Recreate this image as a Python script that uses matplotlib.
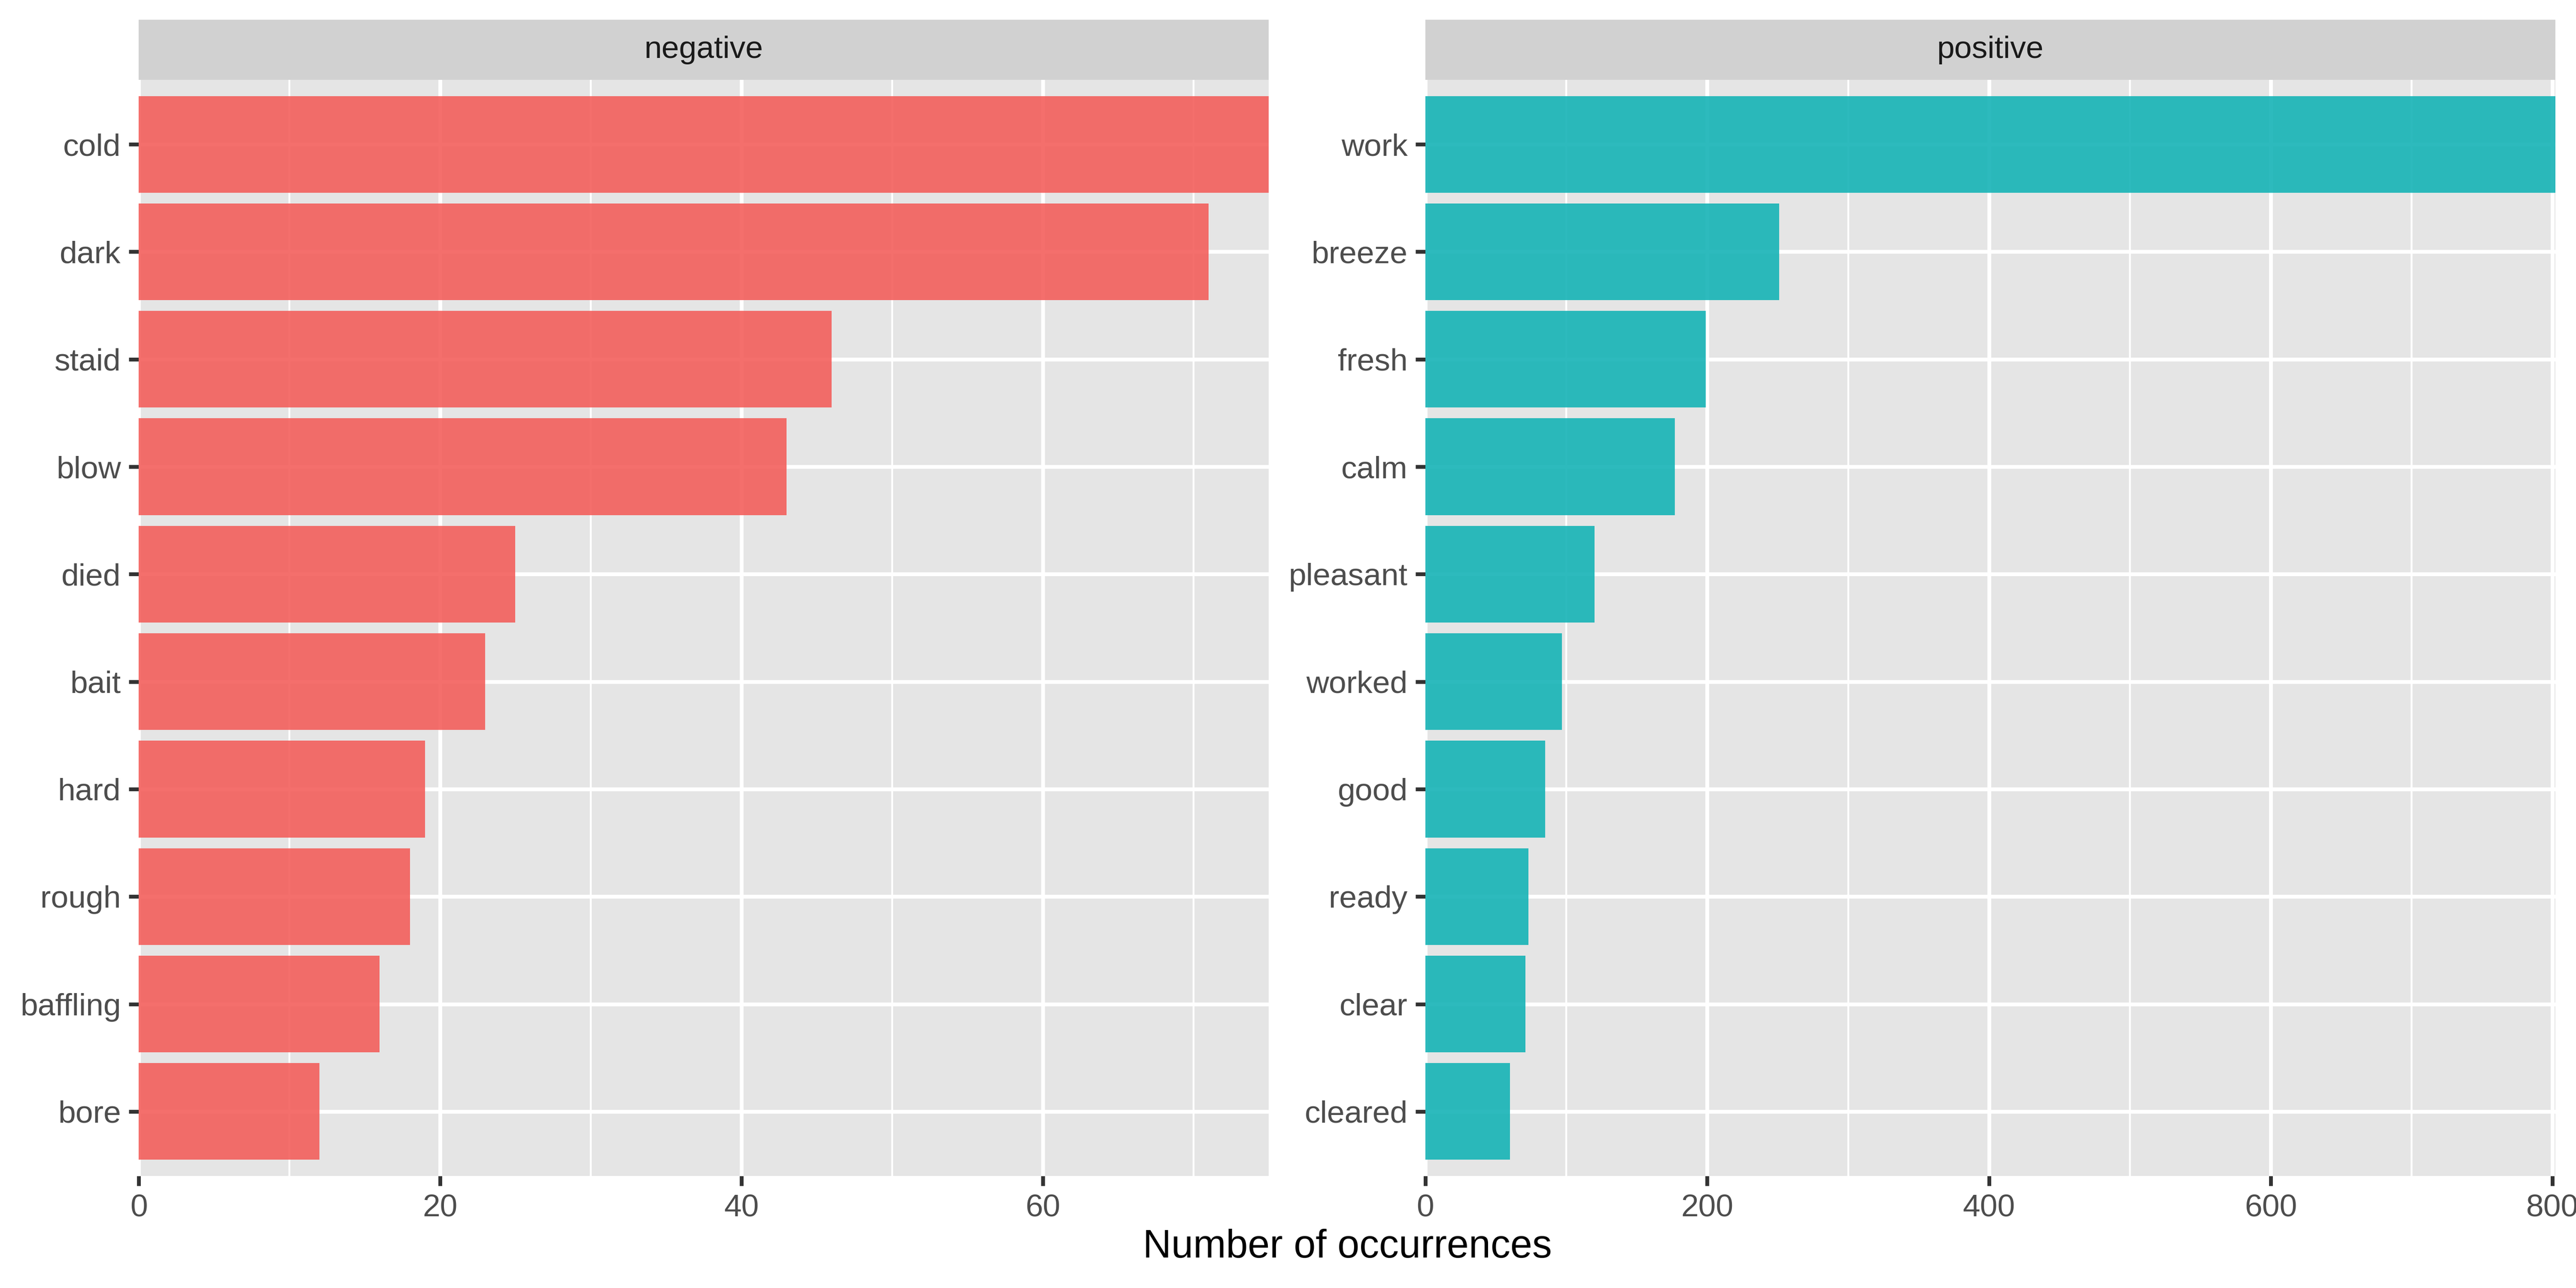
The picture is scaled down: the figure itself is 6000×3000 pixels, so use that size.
import numpy as np
import matplotlib
matplotlib.use("Agg")
import matplotlib.pyplot as plt
from matplotlib.ticker import MultipleLocator

plt.rcParams['font.family'] = ['Liberation Sans', 'DejaVu Sans']

# word counts per sentiment, top 10 each
neg_words = ["cold", "dark", "staid", "blow", "died", "bait", "hard", "rough", "baffling", "bore"]
neg_counts = [75, 71, 46, 43, 25, 23, 19, 18, 16, 12]

pos_words = ["work", "breeze", "fresh", "calm", "pleasant", "worked", "good", "ready", "clear", "cleared"]
pos_counts = [802, 251, 199, 177, 120, 97, 85, 73, 71, 60]

panels = [
    ("negative", neg_words, neg_counts, "#F35F5C", 20, 10),
    ("positive", pos_words, pos_counts, "#16B3B6", 200, 100),
]

fig = plt.figure(figsize=(10, 5), dpi=600)
fig.patch.set_facecolor("white")

lw_major = 1.067
lw_minor = 0.53
lefts = [323 / 6000, 3320 / 6000]
width = 2632 / 6000
bottom = (3000 - 2739) / 3000
height = (2739 - 186) / 3000
strip_h = 140 / 3000

for (title, words, counts, color, major, minor), left in zip(panels, lefts):
    ax = fig.add_axes([left, bottom, width, height])
    ax.set_facecolor("#E5E5E5")
    y = np.arange(len(words))
    ax.barh(y, counts, height=0.9, color=color, alpha=0.9, zorder=3)
    ax.set_xlim(0, max(counts))
    ax.set_ylim(len(words) - 0.4, -0.6)
    ax.set_yticks(y)
    ax.set_yticklabels(words)
    ax.xaxis.set_major_locator(MultipleLocator(major))
    ax.xaxis.set_minor_locator(MultipleLocator(minor))
    ax.set_axisbelow(True)
    ax.grid(which="major", color="white", linewidth=lw_major, zorder=1)
    ax.grid(which="minor", axis="x", color="white", linewidth=lw_minor, zorder=1)
    for s in ax.spines.values():
        s.set_visible(False)
    ax.tick_params(which="major", length=2.75, width=lw_major, color="#333333",
                   labelsize=8.8, labelcolor="#4D4D4D", pad=2.2)
    ax.tick_params(which="minor", length=0)

    # facet strip
    sax = fig.add_axes([left, bottom + height, width, strip_h])
    sax.set_facecolor("#D1D1D1")
    sax.set_xticks([])
    sax.set_yticks([])
    for s in sax.spines.values():
        s.set_visible(False)
    sax.text(0.5, 0.5, title, ha="center", va="center", fontsize=8.8,
             color="#1A1A1A", transform=sax.transAxes)

fig.text((323 + 5954) / 2 / 6000, (3000 - 2905) / 3000, "Number of occurrences",
         ha="center", va="center", fontsize=11, color="black")

fig.savefig("out.png", dpi=600)
